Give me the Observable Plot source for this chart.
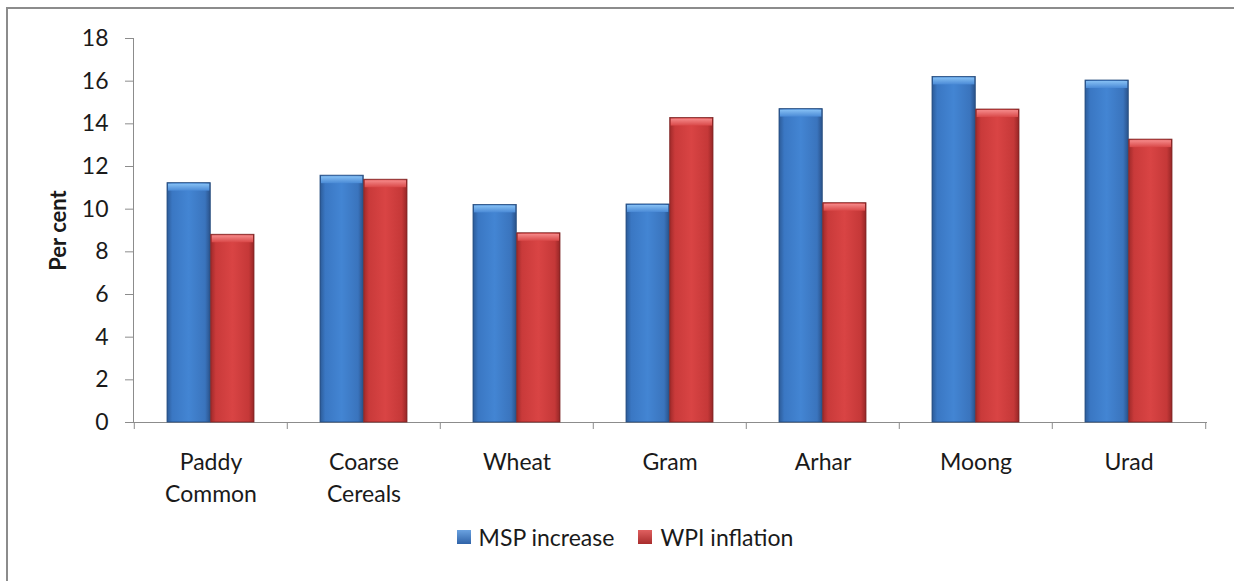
<!DOCTYPE html>
<html>
<head>
<meta charset="utf-8">
<script src="https://cdn.jsdelivr.net/npm/d3@7"></script>
<script src="https://cdn.jsdelivr.net/npm/@observablehq/plot@0.6"></script>
<style>
  html, body { margin: 0; padding: 0; background: #fff; }
  body { width: 1234px; height: 581px; overflow: hidden; position: relative; font-family: Lato, "Open Sans", sans-serif; }
  #frame { position: absolute; left: 6px; top: 7px; width: 1400px; height: 700px; border-left: 2px solid #8c8c8c; border-top: 2px solid #8c8c8c; }
  #chart { position: absolute; left: 0; top: 0; }
  #legend { position: absolute; left: 0; top: 523px; width: 1250px; display: flex; justify-content: center; align-items: center; font-size: 23px; color: #1a1a1a; }
  .item { display: flex; align-items: center; margin: 0 12px; }
  .sw { width: 14px; height: 14px; margin-right: 8px; }
</style>
</head>
<body>
<div id="frame"></div>
<div id="chart"></div>
<div id="legend"></div>
<script>
// ---- data ----
const categories = ["Paddy Common", "Coarse Cereals", "Wheat", "Gram", "Arhar", "Moong", "Urad"];
const seriesNames = ["MSP increase", "WPI inflation"];
const mspIncrease = [11.22, 11.57, 10.2, 10.22, 14.69, 16.2, 16.03];
const wpiInflation = [8.8, 11.38, 8.87, 14.27, 10.28, 14.67, 13.26];
const yTicks = [0, 2, 4, 6, 8, 10, 12, 14, 16, 18];
const seriesFills = ["url(#gBlue)", "url(#gRed)"];

// ---- layout ----
const W = 1234, H = 520, ML = 133, MR = 27, MT = 38, MB = 98;
const PAD = 0.43;
const step = (W - ML - MR) / categories.length;
const bw = step * (1 - PAD);

const rows = categories.flatMap((c, i) => [
  {category: c, series: seriesNames[0], value: mspIncrease[i]},
  {category: c, series: seriesNames[1], value: wpiInflation[i]}
]);
const msp = rows.filter(d => d.series === seriesNames[0]);
const wpi = rows.filter(d => d.series === seriesNames[1]);

const plot = Plot.plot({
  width: W, height: H,
  marginLeft: ML, marginRight: MR, marginTop: MT, marginBottom: MB,
  style: {fontFamily: "Lato, 'Open Sans', sans-serif", color: "#1a1a1a", background: "transparent", overflow: "visible"},
  x: {domain: categories, type: "band", paddingInner: PAD, paddingOuter: PAD / 2},
  y: {domain: [0, 18]},
  marks: [
    Plot.frame({anchor: "left", stroke: "#8c8c8c"}),
    Plot.axisY({ticks: yTicks, tickSize: 8, tickPadding: 17, fontSize: 23, stroke: "#8c8c8c", fill: "#1a1a1a", label: null}),
    Plot.axisX({tickSize: 0, tickPadding: 25, fontSize: 23, lineHeight: 1.39, fill: "#1a1a1a",
      tickFormat: d => d.replace(" ", "\n"), label: null}),
    Plot.axisX({tickSize: 7, dx: -step / 2, tickFormat: () => "", stroke: "#8c8c8c", label: null}),
    Plot.axisX({ticks: [categories[categories.length - 1]], tickSize: 7, dx: step / 2, tickFormat: () => "", stroke: "#8c8c8c", label: null}),
    Plot.ruleY([0], {stroke: "#8c8c8c"}),
    Plot.text(["Per cent"], {frameAnchor: "left", textAnchor: "middle", rotate: -90, dx: -75, fontWeight: "bold", fontSize: 22, fill: "#1a1a1a"}),
    Plot.barY(msp, {x: "category", y: "value", insetRight: bw / 2, fill: seriesFills[0], stroke: "#244a7c", strokeWidth: 0.8}),
    Plot.barY(wpi, {x: "category", y: "value", insetLeft: bw / 2, fill: seriesFills[1], stroke: "#7c2424", strokeWidth: 0.8}),
    Plot.barY(msp, {x: "category", y1: "value", y2: "value", insetRight: bw / 2 + 1, insetLeft: 1, insetTop: 1, insetBottom: -8, fill: "url(#gBlueTop)"}),
    Plot.barY(wpi, {x: "category", y1: "value", y2: "value", insetLeft: bw / 2 + 1, insetRight: 1, insetTop: 1, insetBottom: -8, fill: "url(#gRedTop)"})
  ]
});

document.getElementById("chart").appendChild(plot);

const svg = d3.select(plot);
const defs = svg.insert("defs", ":first-child");
function grad(id, vertical, stops) {
  const g = defs.append("linearGradient").attr("id", id)
    .attr("x1", 0).attr("y1", 0).attr("x2", vertical ? 0 : 1).attr("y2", vertical ? 1 : 0);
  stops.forEach(([o, c]) => g.append("stop").attr("offset", o).attr("stop-color", c));
}
grad("gBlue", false, [[0, "#2c5b98"], [0.12, "#3a77c3"], [0.5, "#4385d3"], [0.88, "#3a74bd"], [1, "#2a528a"]]);
grad("gRed", false, [[0, "#a02a2a"], [0.12, "#c93a3a"], [0.5, "#d94444"], [0.88, "#c53838"], [1, "#962626"]]);
grad("gBlueTop", true, [[0, "#86c0f4"], [1, "#4a8ad6"]]);
grad("gRedTop", true, [[0, "#f58a8a"], [1, "#d94848"]]);

// legend
const legendColors = [["#6aa2e0", "#2f63a8"], ["#e06060", "#a82c2c"]];
const legend = d3.select("#legend");
seriesNames.forEach((s, i) => {
  const item = legend.append("div").attr("class", "item");
  item.append("div").attr("class", "sw")
    .style("background", `linear-gradient(${legendColors[i][0]}, ${legendColors[i][1]})`);
  item.append("span").text(s);
});
</script>
</body>
</html>
